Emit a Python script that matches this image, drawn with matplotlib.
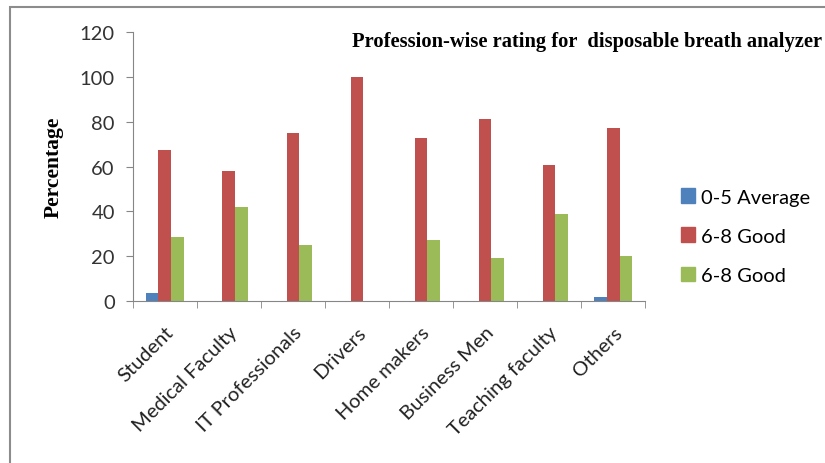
import matplotlib
matplotlib.use('Agg')
import matplotlib.pyplot as plt
import matplotlib.patches as mpatches
import numpy as np

professions = ['Student', 'Medical Faculty', 'IT Professionals', 'Drivers',
               'Home makers', 'Business Men', 'Teaching faculty', 'Others']
average_0_5 = [3.5, 0, 0, 0, 0, 0, 0, 1.8]
good_6_8 = [67.5, 57.8, 75, 100, 72.7, 81, 60.5, 77.3]
good_6_8_b = [28.6, 42, 24.8, 0, 27.3, 19, 38.9, 20.3]
series_names = ['0-5 Average', '6-8 Good', '6-8 Good']

BLUE = '#4F81BD'
RED = '#C0504D'
GREEN = '#9BBB59'
AXIS = '#868686'

fig = plt.figure(figsize=(8.25, 4.64), dpi=100)
ax = fig.add_axes([0.161, 0.349, 0.621, 0.58])

x = np.arange(len(professions))
w = 0.2
ax.bar(x - w, average_0_5, w, color=BLUE, label=series_names[0])
ax.bar(x, good_6_8, w, color=RED, label=series_names[1])
ax.bar(x + w, good_6_8_b, w, color=GREEN, label=series_names[2])

ax.set_xlim(-0.5, len(professions) - 0.5)
ax.set_ylim(0, 120)
ax.set_yticks(range(0, 121, 20))
ax.set_xticks(x)
ax.set_xticklabels(professions, rotation=45, ha='right', rotation_mode='anchor',
                   fontsize=14.5, family='Lato')
ax.set_xticks(np.arange(-0.5, len(professions)), minor=True)
ax.tick_params(axis='x', which='major', length=0, pad=16)
ax.tick_params(axis='x', which='minor', length=5, color=AXIS, direction='out')
ax.tick_params(axis='y', length=5, color=AXIS, labelsize=14.5, pad=8)
for lbl in ax.get_yticklabels():
    lbl.set_family('Lato')
    lbl.set_color('#333333')
for lbl in ax.get_xticklabels():
    lbl.set_color('#222222')

for s in ['top', 'right']:
    ax.spines[s].set_visible(False)
for s in ['left', 'bottom']:
    ax.spines[s].set_color(AXIS)

ax.set_ylabel('Percentage', family='Liberation Serif', fontweight='bold',
              fontsize=15.5)
ax.yaxis.set_label_coords(-0.135, 0.5)

fig.text(0.427, 0.909, 'Profession-wise rating for  disposable breath analyzer',
         family='Liberation Serif', fontweight='bold', fontsize=14.8,
         va='center', ha='left')

handles = [mpatches.Patch(color=c, label=n) for c, n in zip([BLUE, RED, GREEN], series_names)]
fig.legend(handles=handles, loc='center left', bbox_to_anchor=(0.826, 0.489),
           frameon=False, prop={'family': 'Lato', 'size': 14.5},
           handlelength=0.65, handleheight=0.75, handletextpad=0.3,
           labelspacing=1.08, borderpad=0, borderaxespad=0)

# outer chart border
fig.patches.append(mpatches.Rectangle((10 / 825, -0.1), 1.2, (464 - 8) / 464 + 0.1,
                                      transform=fig.transFigure, fill=False,
                                      edgecolor='#8c8c8c', linewidth=1.5))

plt.savefig('out.png', dpi=100)
plt.close()
